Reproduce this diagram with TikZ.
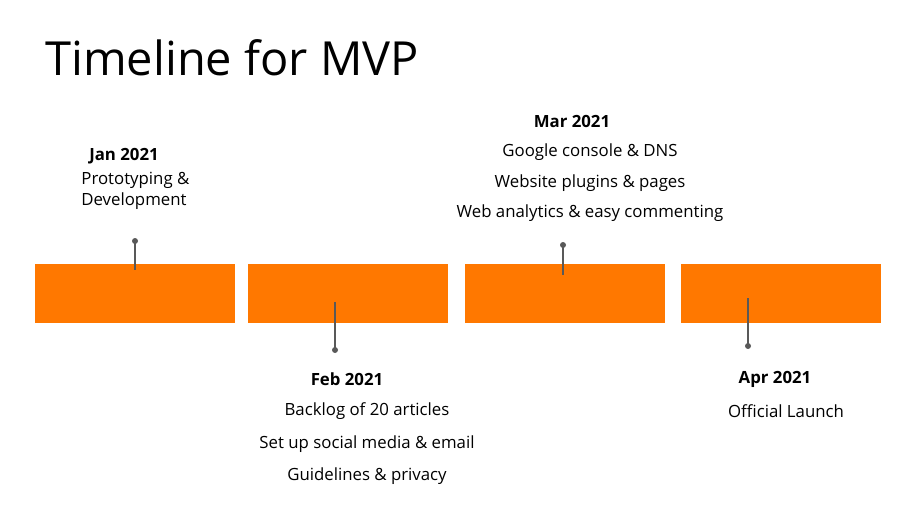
\documentclass[tikz,border=0pt]{standalone}
\usepackage{fontspec}
\setmainfont{Open Sans}
\usepackage{xcolor}
\usetikzlibrary{positioning, calc}
\definecolor{barorange}{HTML}{FF7800}
\definecolor{pingray}{HTML}{595959}

\begin{document}
\begin{tikzpicture}[
    x=0.5pt, y=-0.5pt,
    every node/.style={font=\fontsize{8.4}{15.5}\selectfont, inner sep=0pt},
    bar/.style={rectangle, fill=barorange, minimum width=100pt, minimum height=29.5pt},
    pin/.style={draw=pingray, line width=0.6pt},
    pindot/.style={circle, fill=pingray, minimum size=3pt},
    month/.style={font=\fontsize{8.4}{10}\selectfont\bfseries},
    tasks/.style={align=center}
]
\useasboundingbox (0,0) rectangle (911,508);

% title
\node[anchor=west, font=\fontsize{23.5}{27}\selectfont] (title) at (45,58) {Timeline for MVP};

% bars
\node[bar] (jan) at (135,293.5) {};
\node[bar] (feb) at (348,293.5) {};
\node[bar] (mar) at (565,293.5) {};
\node[bar] (apr) at (781,293.5) {};

% pins
\node[pindot] (jandot) at (135,241) {};
\node[pindot] (febdot) at (335,350) {};
\node[pindot] (mardot) at (563,245) {};
\node[pindot] (aprdot) at (748,346) {};
\coordinate (janend) at (135,270);
\coordinate (febend) at (335,302);
\coordinate (marend) at (563,275);
\coordinate (aprend) at (748,298);
\draw[pin] (jandot.center) -- (janend);
\draw[pin] (febdot.center) -- (febend);
\draw[pin] (mardot.center) -- (marend);
\draw[pin] (aprdot.center) -- (aprend);

% labels
\node[month] (janlbl) at (124,156) {Jan 2021};
\node[align=left, anchor=west, font=\fontsize{8.4}{10.5}\selectfont] (jantxt) at (81,191) {Prototyping \&\\Development};

\node[month] (feblbl) at (347,379) {Feb 2021};
\node[tasks, font=\fontsize{8.4}{16.25}\selectfont] (febtxt) at (367,444) {Backlog of 20 articles\\Set up social media \& email\\Guidelines \& privacy};

\node[month] (marlbl) at (572,121) {Mar 2021};
\node[tasks, font=\fontsize{8.4}{15.25}\selectfont] (martxt) at (590,183) {Google console \& DNS\\Website plugins \& pages\\Web analytics \& easy commenting};

\node[month] (aprlbl) at (775,379) {Apr 2021};
\node (aprtxt) at (786,411) {Official Launch};
\end{tikzpicture}
\end{document}
